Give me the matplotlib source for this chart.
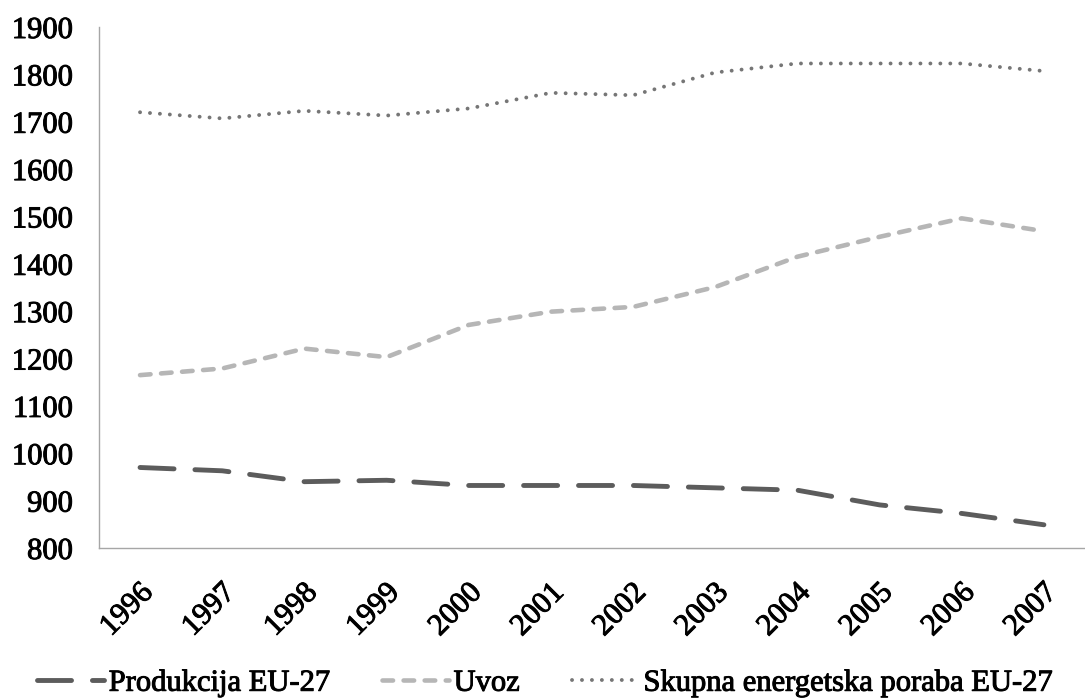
import matplotlib
matplotlib.use("Agg")
import matplotlib.pyplot as plt
import matplotlib.transforms as mtransforms
import matplotlib.patheffects as pe

years = ["1996", "1997", "1998", "1999", "2000", "2001", "2002", "2003", "2004", "2005", "2006", "2007"]
produkcija = [970, 963, 940, 943, 932, 932, 932, 927, 922, 891, 873, 849]
uvoz = [1165, 1179, 1221, 1203, 1271, 1299, 1309, 1351, 1415, 1457, 1496, 1469]
skupna = [1720, 1707, 1723, 1713, 1728, 1761, 1756, 1804, 1823, 1823, 1823, 1807]
labels = ["Produkcija EU-27", "Uvoz", "Skupna energetska poraba EU-27"]
yticks = list(range(800, 2000, 100))

plt.rcParams['font.family'] = ['Liberation Serif', 'DejaVu Serif']
thick = [pe.withStroke(linewidth=0.7, foreground='black')]

fig = plt.figure(figsize=(10.85, 6.98), dpi=100)
ax = fig.add_axes([0.0912, 0.2149, 0.9088, 0.7464])

x = list(range(len(years)))
ax.plot(x, produkcija, color='#5c5c5c', lw=3.5, linestyle=(0, (7, 4.3)),
        dash_capstyle='round', solid_joinstyle='round', label=labels[0])
ax.plot(x, uvoz, color='#b6b6b6', lw=3.3, linestyle=(0, (2.3, 2.3)),
        dash_capstyle='round', label=labels[1])
ax.plot(x, skupna, color='#767676', lw=2.8, linestyle=(0, (0.01, 2.55)),
        dash_capstyle='round', label=labels[2])

ax.set_xlim(-0.5, 11.5)
ax.set_ylim(800, 1900)
ax.set_yticks(yticks)
ax.set_yticklabels([str(v) for v in yticks], fontsize=22)
ax.set_xticks(x)
ax.set_xticklabels(years, fontsize=22)

for s in ['top', 'right']:
    ax.spines[s].set_visible(False)
for s in ['left', 'bottom']:
    ax.spines[s].set_color('#a6a6a6')
    ax.spines[s].set_linewidth(1.0)

ax.tick_params(axis='y', length=0, pad=19)
ax.tick_params(axis='x', length=0, pad=62 * 72 / 100)
offset = mtransforms.ScaledTranslation(-13 / 100, 0, fig.dpi_scale_trans)
for lab in ax.get_xticklabels():
    lab.set_rotation(45)
    lab.set_ha('center')
    lab.set_va('center')
    lab.set_rotation_mode('anchor')
    lab.set_transform(lab.get_transform() + offset)
    lab.set_path_effects(thick)
for lab in ax.get_yticklabels():
    lab.set_path_effects(thick)

leg = fig.legend(loc='center left', bbox_to_anchor=(0.034, 0.0215), ncol=3, frameon=False,
                 fontsize=22, handlelength=2.2, handletextpad=0.15, columnspacing=1.7,
                 borderaxespad=0, borderpad=0)
for t in leg.get_texts():
    t.set_path_effects(thick)

fig.savefig("out.png", dpi=100)
